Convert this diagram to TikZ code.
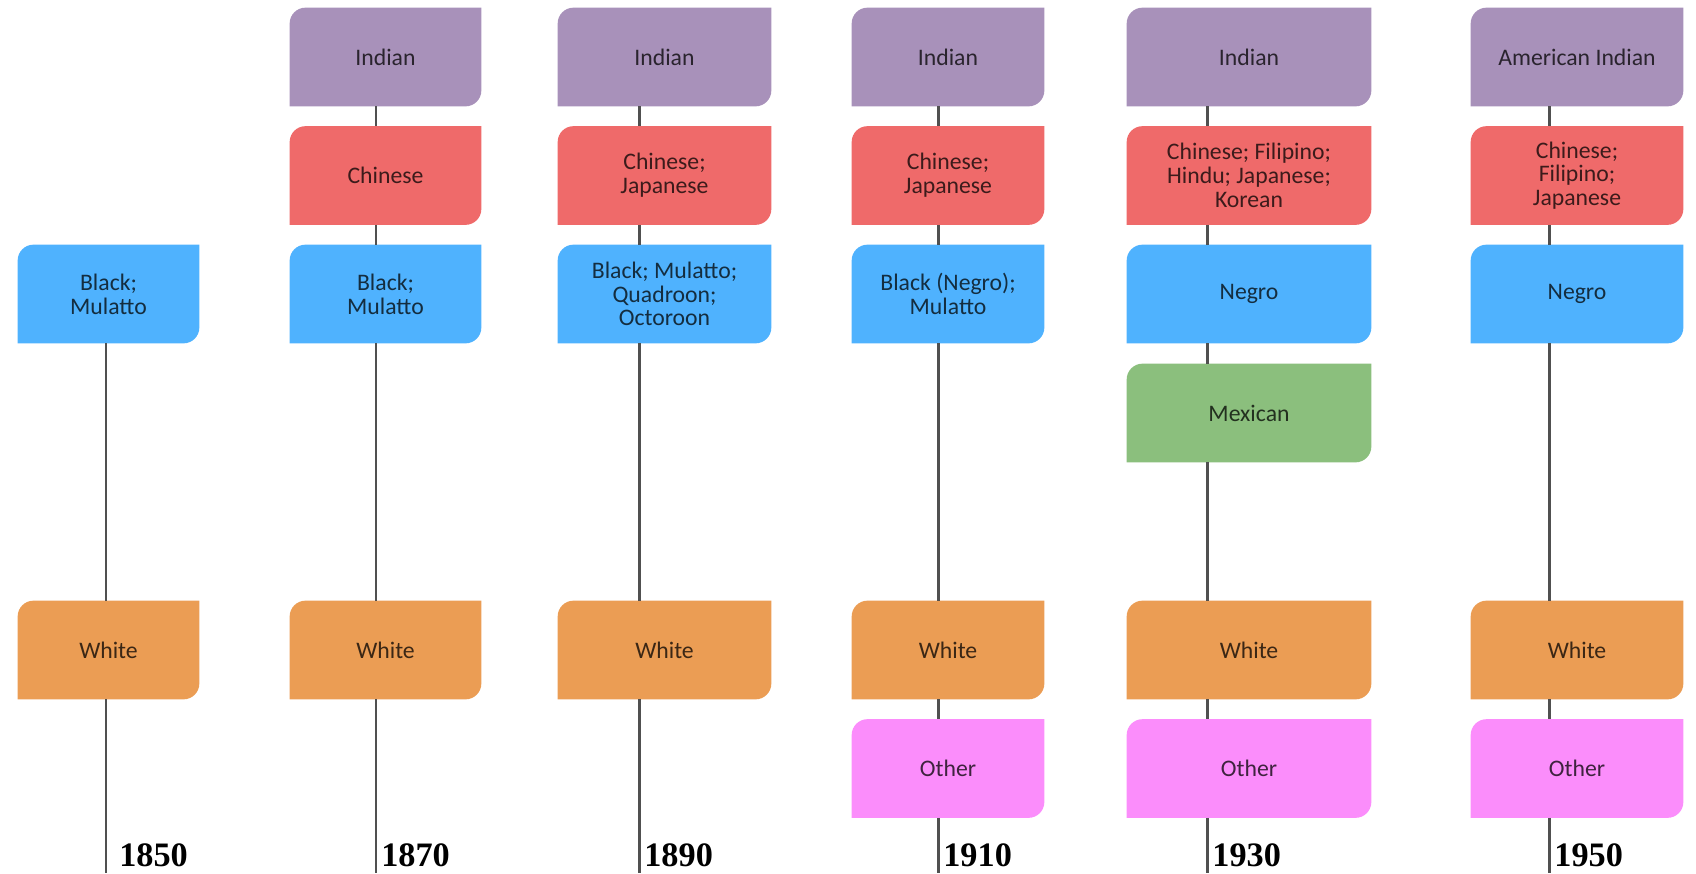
\documentclass[tikz,border=0pt]{standalone}
\usepackage{fontspec}
\setmainfont{Carlito}
\newfontfamily\yearfont{Liberation Serif}

\definecolor{indianc}{HTML}{A891BA}
\definecolor{chinesec}{HTML}{EF6A6A}
\definecolor{blackc}{HTML}{4FB2FE}
\definecolor{mexicanc}{HTML}{8BBF7D}
\definecolor{whitec}{HTML}{EB9D54}
\definecolor{otherc}{HTML}{FB8DFB}
\definecolor{stemgray}{HTML}{505050}

\pgfdeclarelayer{background}
\pgfsetlayers{background,main}

\tikzset{
  cat/.style={rectangle, text=#1!25!black, align=center, inner sep=0pt,
    minimum height=1.96cm, font=\fontsize{13.5}{13.5}\selectfont},
  stem/.style={draw=stemgray, line width=1.7pt},
  year/.style={anchor=base west, inner sep=0pt,
    font=\yearfont\bfseries\fontsize{19.5}{21}\selectfont},
}

\begin{document}
\begin{tikzpicture}[x=0.02cm, y=-0.02cm]
  \useasboundingbox (0,0) rectangle (1696,873);

  % bottom ends of the stems
  \coordinate (s50) at (106,873);
  \coordinate (s70) at (376,873);
  \coordinate (s90) at (639,873);
  \coordinate (s10) at (938,873);
  \coordinate (s30) at (1207,873);
  \coordinate (s55) at (1549,873);

  % 1850
  \node[cat=blackc, minimum width=3.62cm] (blk50) at (108.5,294) {Black;\\Mulatto};
  \node[cat=whitec, minimum width=3.62cm] (wht50) at (108.5,650) {White};

  % 1870
  \node[cat=indianc,  minimum width=3.82cm] (ind70) at (385.5,57)  {Indian};
  \node[cat=chinesec, minimum width=3.82cm] (chi70) at (385.5,175.5) {Chinese};
  \node[cat=blackc,   minimum width=3.82cm] (blk70) at (385.5,294) {Black;\\Mulatto};
  \node[cat=whitec,   minimum width=3.82cm] (wht70) at (385.5,650) {White};

  % 1890
  \node[cat=indianc,  minimum width=4.26cm] (ind90) at (664.5,57)  {Indian};
  \node[cat=chinesec, minimum width=4.26cm] (chi90) at (664.5,175.5) {Chinese;\\Japanese};
  \node[cat=blackc,   minimum width=4.26cm] (blk90) at (664.5,294) {Black; Mulatto;\\Quadroon;\\Octoroon};
  \node[cat=whitec,   minimum width=4.26cm] (wht90) at (664.5,650) {White};

  % 1910
  \node[cat=indianc,  minimum width=3.84cm] (ind10) at (948,57)  {Indian};
  \node[cat=chinesec, minimum width=3.84cm] (chi10) at (948,175.5) {Chinese;\\Japanese};
  \node[cat=blackc,   minimum width=3.84cm] (blk10) at (948,294) {Black (Negro);\\Mulatto};
  \node[cat=whitec,   minimum width=3.84cm] (wht10) at (948,650) {White};
  \node[cat=otherc,   minimum width=3.84cm] (oth10) at (948,768.5) {Other};

  % 1930
  \node[cat=indianc,  minimum width=4.88cm] (ind30) at (1249,57)  {Indian};
  \node[cat=chinesec, minimum width=4.88cm] (chi30) at (1249,175.5) {Chinese; Filipino;\\Hindu; Japanese;\\Korean};
  \node[cat=blackc,   minimum width=4.88cm] (blk30) at (1249,294) {Negro};
  \node[cat=mexicanc, minimum width=4.88cm] (mex30) at (1249,413) {Mexican};
  \node[cat=whitec,   minimum width=4.88cm] (wht30) at (1249,650) {White};
  \node[cat=otherc,   minimum width=4.88cm] (oth30) at (1249,768.5) {Other};

  % 1950
  \node[cat=indianc,  minimum width=4.24cm] (ind55) at (1577,57)  {American Indian};
  \node[cat=chinesec, minimum width=4.24cm] (chi55) at (1577,175.5) {Chinese;\\Filipino;\\Japanese};
  \node[cat=blackc,   minimum width=4.24cm] (blk55) at (1577,294) {Negro};
  \node[cat=whitec,   minimum width=4.24cm] (wht55) at (1577,650) {White};
  \node[cat=otherc,   minimum width=4.24cm] (oth55) at (1577,768.5) {Other};

  \begin{pgfonlayer}{background}
  % box fills: top left and bottom right corners rounded
  \foreach \n/\c in {blk50/blackc, wht50/whitec,
      ind70/indianc, chi70/chinesec, blk70/blackc, wht70/whitec,
      ind90/indianc, chi90/chinesec, blk90/blackc, wht90/whitec,
      ind10/indianc, chi10/chinesec, blk10/blackc, wht10/whitec, oth10/otherc,
      ind30/indianc, chi30/chinesec, blk30/blackc, mex30/mexicanc, wht30/whitec, oth30/otherc,
      ind55/indianc, chi55/chinesec, blk55/blackc, wht55/whitec, oth55/otherc}
    \fill[\c] (\n.south west) -- ([yshift=-9pt]\n.north west)
      arc[start angle=180, end angle=90, radius=9pt] -- (\n.north east)
      -- ([yshift=9pt]\n.south east)
      arc[start angle=0, end angle=-90, radius=9pt] -- cycle;
  \end{pgfonlayer}

  % stems between the boxes
  \foreach \a/\b/\s in {blk50/wht50/s50,
      ind70/chi70/s70, chi70/blk70/s70, blk70/wht70/s70,
      ind90/chi90/s90, chi90/blk90/s90, blk90/wht90/s90,
      ind10/chi10/s10, chi10/blk10/s10, blk10/wht10/s10, wht10/oth10/s10,
      ind30/chi30/s30, chi30/blk30/s30, blk30/mex30/s30, mex30/wht30/s30, wht30/oth30/s30,
      ind55/chi55/s55, chi55/blk55/s55, blk55/wht55/s55, wht55/oth55/s55}
    \draw[stem] (\a.south -| \s) -- (\b.north -| \s);

  \draw[stem] (wht50.south -| s50) -- (s50);
  \draw[stem] (wht70.south -| s70) -- (s70);
  \draw[stem] (wht90.south -| s90) -- (s90);
  \draw[stem] (oth10.south -| s10) -- (s10);
  \draw[stem] (oth30.south -| s30) -- (s30);
  \draw[stem] (oth55.south -| s55) -- (s55);

  % years
  \node[year] (y50) at (119,866) {1850};
  \node[year] (y70) at (381,866) {1870};
  \node[year] (y90) at (644,866) {1890};
  \node[year] (y10) at (943,866) {1910};
  \node[year] (y30) at (1212,866) {1930};
  \node[year] (y55) at (1554,866) {1950};
\end{tikzpicture}
\end{document}
